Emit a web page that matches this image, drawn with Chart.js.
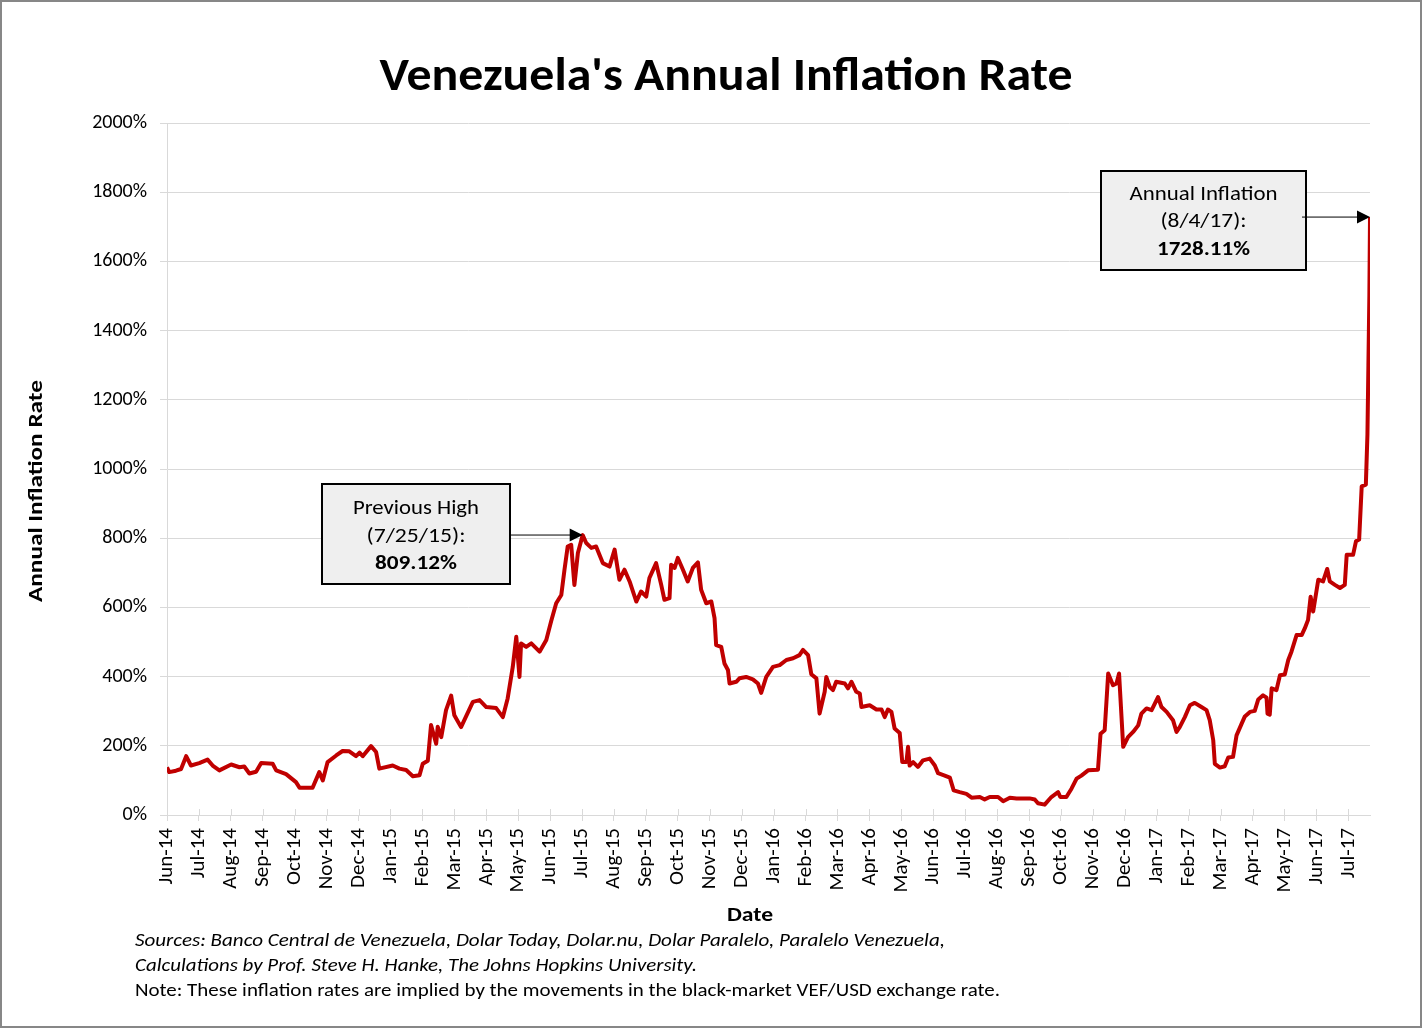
<!DOCTYPE html>
<html><head><meta charset="utf-8">
<script src="https://cdn.jsdelivr.net/npm/chart.js@4.4.0/dist/chart.umd.min.js"></script>
<style>html,body{margin:0;padding:0;background:#fff}canvas{display:block}</style>
</head><body>
<canvas id="c" width="1423" height="1030"></canvas>
<script>
// ---- data ----
const monthLabels = ['Jun-14','Jul-14','Aug-14','Sep-14','Oct-14','Nov-14','Dec-14','Jan-15','Feb-15','Mar-15','Apr-15','May-15','Jun-15','Jul-15','Aug-15','Sep-15','Oct-15','Nov-15','Dec-15','Jan-16','Feb-16','Mar-16','Apr-16','May-16','Jun-16','Jul-16','Aug-16','Sep-16','Oct-16','Nov-16','Dec-16','Jan-17','Feb-17','Mar-17','Apr-17','May-17','Jun-17','Jul-17'];
// position in months since Jun-14
const xMonths = [0.00,0.07,0.28,0.44,0.60,0.75,1.01,1.27,1.43,1.64,
2.01,2.27,2.42,2.58,2.79,2.95,3.31,3.42,3.73,4.04,
4.15,4.56,4.77,4.88,5.03,5.30,5.50,5.71,5.92,6.03,
6.13,6.39,6.55,6.65,7.07,7.28,7.49,7.70,7.91,8.01,
8.17,8.27,8.43,8.48,8.59,8.74,8.90,9.00,9.21,9.58,
9.79,10.00,10.31,10.52,10.67,10.83,10.94,11.04,11.09,11.25,
11.41,11.67,11.88,12.03,12.19,12.35,12.45,12.55,12.66,12.76,
12.87,13.02,13.13,13.29,13.44,13.65,13.86,14.02,14.17,14.33,
14.49,14.70,14.85,15.01,15.11,15.32,15.48,15.58,15.74,15.79,
15.90,16.00,16.16,16.31,16.47,16.63,16.73,16.89,17.05,17.15,
17.20,17.36,17.46,17.57,17.62,17.83,17.93,18.14,18.35,18.51,
18.61,18.77,18.98,19.19,19.40,19.61,19.81,19.92,20.08,20.18,
20.34,20.44,20.60,20.65,20.76,20.86,20.96,21.23,21.33,21.44,
21.59,21.70,21.75,22.01,22.22,22.38,22.48,22.58,22.69,22.79,
22.95,23.03,23.16,23.21,23.26,23.37,23.52,23.68,23.89,24.05,
24.15,24.36,24.52,24.64,24.83,25.04,25.20,25.46,25.61,25.77,
26.03,26.19,26.40,26.61,26.81,27.02,27.18,27.28,27.49,27.70,
27.91,27.98,28.17,28.33,28.49,28.64,28.85,29.16,29.24,29.37,
29.48,29.63,29.74,29.82,29.95,30.10,30.26,30.42,30.52,30.68,
30.84,30.94,31.04,31.15,31.31,31.51,31.62,31.72,31.88,32.04,
32.19,32.40,32.56,32.66,32.77,32.82,32.98,33.13,33.24,33.39,
33.50,33.66,33.76,33.92,34.07,34.18,34.33,34.44,34.47,34.54,
34.60,34.75,34.86,35.01,35.12,35.22,35.38,35.54,35.64,35.74,
35.82,35.90,36.06,36.21,36.34,36.42,36.58,36.74,36.89,36.95,
37.15,37.24,37.34,37.42,37.55,37.60,37.63,37.66,37.68];
const inflationPct = [138,124,128,133,170,143,150,160,143,129,
146,138,140,120,125,150,148,129,118,95,
79,79,124,100,153,172,185,184,170,180,
170,199,182,134,143,134,130,112,115,148,
157,260,206,255,225,303,345,288,254,327,
332,312,309,283,337,428,515,399,496,486,
496,472,506,559,612,636,709,776,781,665,
757,809,786,772,776,728,718,767,680,709,
675,617,646,631,685,728,665,622,627,723,
714,743,709,675,714,730,651,612,617,569,
491,486,438,419,380,385,395,399,392,380,
353,399,428,433,448,453,462,477,462,407,
395,293,356,399,370,361,385,380,366,385,
356,351,312,317,305,305,283,305,298,250,
237,153,153,197,143,153,139,158,163,143,
121,114,108,71,66,61,50,52,45,52,
52,40,50,48,48,48,45,34,30,52,
66,52,52,76,105,114,129,131,235,245,
409,375,380,409,197,225,240,259,293,308,
303,322,341,312,298,274,240,254,283,317,
324,312,303,274,216,148,137,141,166,168,
230,264,285,298,301,334,346,339,293,290,
366,361,404,406,448,472,520,520,540,564,
631,588,680,675,711,675,665,656,665,752,
752,791,796,950,955,1100,1300,1500,1728.11];
const yTickValues = [0,200,400,600,800,1000,1200,1400,1600,1800,2000];
const titleText = "Venezuela's Annual Inflation Rate";
const yAxisTitle = 'Annual Inflation Rate';
const xAxisTitle = 'Date';
const sourceLines = ['Sources: Banco Central de Venezuela, Dolar Today, Dolar.nu, Dolar Paralelo, Paralelo Venezuela,',
  'Calculations by Prof. Steve H. Hanke, The Johns Hopkins University.'];
const noteLine = 'Note: These inflation rates are implied by the movements in the black-market VEF/USD exchange rate.';
const prevHighLines = ['Previous High', '(7/25/15):', '809.12%'];
const prevHighPoint = {x: 13.02, y: 809.12};
const latestLines = ['Annual Inflation', '(8/4/17):', '1728.11%'];
const latestPoint = {x: 37.68, y: 1728.11};

// ---- drawing ----
const FONT = 'Carlito, Lato, sans-serif';
function fitText(ctx, text, x, y, font, targetW, align, baseline) {
  ctx.save();
  ctx.font = font;
  const w = ctx.measureText(text).width;
  const s = targetW / w;
  ctx.translate(x, y);
  ctx.scale(s, 1);
  ctx.textAlign = align || 'left';
  ctx.textBaseline = baseline || 'middle';
  ctx.fillStyle = '#000';
  ctx.fillText(text, 0, 0);
  ctx.restore();
}
function drawArrow(ctx, x1, y, x2) {
  ctx.save();
  ctx.strokeStyle = '#000'; ctx.fillStyle = '#000'; ctx.lineWidth = 1;
  ctx.beginPath(); ctx.moveTo(x1, y); ctx.lineTo(x2 - 10, y); ctx.stroke();
  ctx.beginPath(); ctx.moveTo(x2, y); ctx.lineTo(x2 - 13, y - 6.5); ctx.lineTo(x2 - 13, y + 6.5); ctx.closePath(); ctx.fill();
  ctx.restore();
}
function drawBox(ctx, l, t, r, b, lines, widths, lineYs) {
  ctx.save();
  ctx.fillStyle = '#efefef';
  ctx.fillRect(l, t, r - l, b - t);
  ctx.strokeStyle = '#000'; ctx.lineWidth = 2;
  ctx.strokeRect(l, t, r - l, b - t);
  ctx.restore();
  const cx = (l + r) / 2;
  lines.forEach((s, i) => {
    const bold = i === lines.length - 1;
    fitText(ctx, s, cx, lineYs[i], (bold ? 'bold ' : '') + '20px ' + FONT, widths[i], 'center');
  });
}

const decor = {
  id: 'decor',
  afterDraw(chart) {
    const ctx = chart.ctx;
    const xs = chart.scales.x, ys = chart.scales.y;
    const bottom = chart.chartArea.bottom;
    ctx.save();
    ctx.strokeStyle = '#d9d9d9'; ctx.lineWidth = 1;
    monthLabels.forEach((_, i) => {
      const px = Math.round(xs.getPixelForValue(i)) + 0.5;
      ctx.beginPath(); ctx.moveTo(px, bottom - 6); ctx.lineTo(px, bottom); ctx.stroke();
    });
    ctx.restore();
    fitText(ctx, titleText, 726, 90, 'bold 46px ' + FONT, 693, 'center', 'alphabetic');
    ctx.save();
    ctx.translate(37, 491);
    ctx.rotate(-Math.PI / 2);
    fitText(ctx, yAxisTitle, 0, 0, 'bold 20px ' + FONT, 222, 'center');
    ctx.restore();
    fitText(ctx, xAxisTitle, 750, 916, 'bold 20px ' + FONT, 46, 'center');
    fitText(ctx, sourceLines[0], 135, 941, 'italic 19px ' + FONT, 810, 'left');
    fitText(ctx, sourceLines[1], 135, 966, 'italic 19px ' + FONT, 562, 'left');
    fitText(ctx, noteLine, 135, 991, '19px ' + FONT, 865, 'left');
    const p1x = xs.getPixelForValue(prevHighPoint.x), p1y = ys.getPixelForValue(prevHighPoint.y);
    drawBox(ctx, 322, 484, 510, 584, prevHighLines, [126, 99, 82], [509, 537, 564]);
    drawArrow(ctx, 511, p1y, p1x);
    const p2x = xs.getPixelForValue(latestPoint.x), p2y = ys.getPixelForValue(latestPoint.y);
    drawBox(ctx, 1101, 171, 1306, 270, latestLines, [148, 86, 93], [195, 222, 250]);
    drawArrow(ctx, 1302, p2y, p2x);
    ctx.save();
    ctx.strokeStyle = '#878787'; ctx.lineWidth = 2;
    ctx.strokeRect(1, 1, 1420, 1026);
    ctx.restore();
  }
};
const bg = {
  id: 'bg',
  beforeDraw(chart) {
    const ctx = chart.ctx;
    ctx.save(); ctx.fillStyle = '#fff'; ctx.fillRect(0, 0, chart.width, chart.height); ctx.restore();
  }
};

new Chart(document.getElementById('c'), {
  type: 'line',
  data: {
    datasets: [{
      label: 'Annual Inflation Rate',
      data: xMonths.map((x, i) => ({x: x, y: inflationPct[i]})),
      borderColor: '#c00000',
      borderWidth: 4,
      pointRadius: 0,
      tension: 0,
      fill: false,
      borderJoinStyle: 'round'
    }]
  },
  options: {
    responsive: false,
    devicePixelRatio: 1,
    animation: false,
    layout: {padding: {top: 123, left: 0, right: 53, bottom: 115}},
    plugins: {legend: {display: false}, tooltip: {enabled: false}, title: {display: false}},
    scales: {
      x: {
        type: 'linear',
        min: 0,
        max: 37.68,
        afterBuildTicks: (s) => { s.ticks = monthLabels.map((_, i) => ({value: i})); },
        afterFit: (s) => { s.height = 100; },
        ticks: {
          callback: (v, i) => monthLabels[i],
          minRotation: 90, maxRotation: 90, autoSkip: false,
          font: {family: FONT, size: 21}, color: '#000', padding: 7
        },
        grid: {drawOnChartArea: false, drawTicks: true, tickLength: 6, color: '#d9d9d9'},
        border: {display: true, color: '#d9d9d9'}
      },
      y: {
        min: 0,
        max: 2000,
        afterBuildTicks: (s) => { s.ticks = yTickValues.map(v => ({value: v})); },
        afterFit: (s) => { s.width = 167; },
        ticks: {
          callback: (v) => v + '%',
          font: {family: FONT, size: 20}, color: '#000', padding: 13
        },
        grid: {color: '#d9d9d9', tickLength: 7, drawTicks: true},
        border: {display: true, color: '#d9d9d9'}
      }
    }
  },
  plugins: [bg, decor]
});
</script>
</body></html>
